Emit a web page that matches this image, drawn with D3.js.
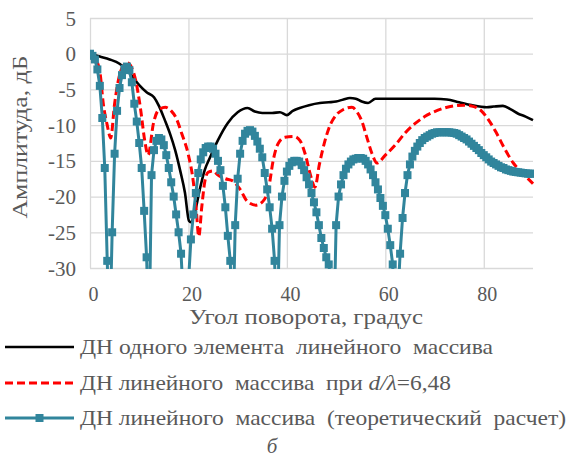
<!DOCTYPE html>
<html>
<head>
<meta charset="utf-8">
<script src="https://cdn.jsdelivr.net/npm/d3@7"></script>
<style>
  body { margin: 0; background: #fff; }
  svg text { font-family: "Liberation Serif", "DejaVu Serif", serif !important; fill: #595959; }
  .legend text { white-space: pre; }
</style>
</head>
<body>
<svg class="dn-chart" width="569" height="468"></svg>
<script>
// single element pattern (deg, dB)
const singleElement = [
  [0, 0], [2, -0.4], [4, -0.8], [6, -1.4], [8, -2.7], [10, -4.4], [11.5, -5.4], [13, -6.1],
  [14, -7.3], [15.2, -9.3], [16.3, -11.3], [17.3, -13.5], [18.3, -16.3], [19.3, -19.5],
  [20.1, -23.4], [20.5, -23.6], [21.3, -22.2], [22.3, -19], [23.3, -16.3], [24.4, -14.5],
  [26, -12.1], [28, -9.7], [30, -8.2], [32, -7.6], [33.5, -8.1], [35, -8.3], [37, -8.3],
  [38.6, -8.2], [40, -8.6], [41.2, -8.0], [42.6, -7.6], [44.5, -7.2], [46.7, -6.9], [48.5, -6.8],
  [50, -6.7], [51.5, -6.4], [52.8, -6.2], [54, -6.3], [55.2, -6.7], [56.5, -6.9], [58, -6.3],
  [60, -6.3], [65, -6.3], [70, -6.3], [72.5, -6.4], [75, -6.8], [77.5, -7.2], [80.6, -7.5],
  [82, -7.4], [83.9, -7.3], [85.5, -7.8], [87, -8.4], [88.5, -8.8], [90, -9.3]
];

// array pattern, d/lambda = 6.48 (deg, dB)
const arrayPattern = [
  [0, 0], [1, -0.6], [2, -2.5], [2.7, -7], [3.5, -10], [4.2, -11.8], [5, -7], [6, -3], [7, -1.5],
  [7.6, -1.3], [8.5, -2], [9.3, -3.8], [10.2, -7.4], [11.2, -12.5], [11.8, -14.2], [12.9, -9.7],
  [13.9, -7.9], [15.3, -7.5], [16.5, -8], [17.5, -9], [18.6, -11.1], [20, -14.2], [21, -18],
  [21.6, -22], [22.1, -25.6], [22.7, -21.5], [23.3, -18], [24, -16.6], [25, -16.4], [26, -17],
  [27.5, -17.5], [29, -17.8], [30.5, -19], [32, -20.7], [33.7, -21.2], [35.2, -20.6], [36.3, -18.8],
  [37.2, -15], [38.2, -12.6], [39.6, -11.7], [41.5, -11.6], [42.7, -12.2], [43.7, -14], [44.8, -17],
  [45.7, -18.7], [46.6, -15.5], [47.5, -12.8], [48.5, -10.5], [50, -8.6], [51.5, -7.8], [53.2, -7.5],
  [54.3, -8.2], [55.2, -9.4], [56.2, -11.6], [57.3, -14], [58.3, -15.3], [60, -14.2], [62, -12.8],
  [64, -11.1], [66, -9.8], [68, -8.8], [70, -8.1], [72, -7.6], [74, -7.3], [76, -7.2], [78, -7.4],
  [79.5, -8], [81, -9.3], [82.5, -11], [84, -13], [86, -15.3], [88, -16.8], [90, -18.2]
];

// theoretical pattern, one value every 0.5 deg from 0 to 90
const theoryStep = 0.5;
const theoryValues = [
  0, -0.3, -0.8, -2.2, -4.5, -9, -16, -29, -40, -25,
  -14, -8, -4.8, -3, -2.1, -1.8, -2.3, -4, -7, -9.5,
  -12.5, -16, -22, -28.5, -40, -17, -13.5, -12.2, -11.8, -12,
  -12.8, -14.2, -16, -18, -20, -22.5, -25, -28, -35, -40,
  -32, -26, -22.5, -19.5, -16.7, -14.8, -13.8, -13.2, -13, -13,
  -13.3, -14, -15, -16.3, -18.5, -21.5, -25.5, -29, -40, -24,
  -17.5, -14, -12.2, -11.2, -10.8, -10.7, -10.9, -11.5, -12.3, -13.3,
  -14.5, -16.7, -19, -21.5, -24.5, -29, -40, -24, -20, -17.8,
  -16.5, -15.7, -15.2, -15, -15, -15.1, -15.6, -16.3, -17.3, -18.3,
  -19.5, -20.8, -22.2, -24, -25.8, -27.2, -28.5, -29.5, -32, -40,
  -24, -20, -18.3, -17, -16.1, -15.5, -15.1, -14.8, -14.7, -14.6,
  -14.6, -14.7, -15, -15.5, -16.2, -17, -18, -19, -20.2, -21.3,
  -22.6, -24.5, -26.8, -29.5, -40, -35, -28, -23, -19.5, -17,
  -15.5, -14.4, -13.6, -13, -12.5, -12.1, -11.8, -11.6, -11.4, -11.2,
  -11.1, -11, -11, -11, -11, -11, -11, -11.05, -11.1, -11.2,
  -11.4, -11.6, -11.8, -12, -12.3, -12.6, -12.9, -13.2, -13.5, -13.9,
  -14.2, -14.5, -14.8, -15.1, -15.3, -15.5, -15.7, -15.9, -16, -16.2,
  -16.3, -16.4, -16.5, -16.55, -16.6, -16.65, -16.7, -16.75, -16.8, -16.8,
  -16.8
];

const xTicks = [0, 20, 40, 60, 80];
const yTicks = [5, 0, -5, -10, -15, -20, -25, -30];

const BLACK = "#000000";
const RED = "#ff0000";
const TEAL = "#31859c";
const GRID = "#d9d9d9";

var svg = d3.select("svg.dn-chart"),
  margin = { top: 18, left: 90 },
  width = 443,
  height = 250;

const xScale = d3.scaleLinear().domain([0, 90]).range([0, width]);
const yScale = d3.scaleLinear().domain([-30, 5]).range([height, 0]);

svg.append("defs")
  .append("clipPath")
  .attr("id", "plot-clip")
  .append("rect")
  .attr("x", 0)
  .attr("y", -1)
  .attr("width", width + 1)
  .attr("height", height + 2);

const chartG = svg.append("g")
  .attr("transform", `translate(${margin.left}, ${margin.top})`);

// GRID + TICK LABELS
const yAxis = d3.axisLeft(yScale).tickValues(yTicks).tickSize(-width).tickPadding(14);
chartG.append("g")
  .attr("class", "y axis")
  .call(yAxis)
  .call((g) => g.select(".domain").remove())
  .call((g) => g.selectAll(".tick line").attr("stroke", GRID).attr("stroke-width", 1.3))
  .call((g) => g.selectAll(".tick text")
    .attr("dy", 7)
    .attr("font-size", 21)
    .text((d) => d < 0 ? "-" + Math.abs(d) : d));

const xAxis = d3.axisBottom(xScale).tickValues(xTicks).tickSize(-height).tickPadding(20);
chartG.append("g")
  .attr("class", "x axis")
  .attr("transform", `translate(0, ${height})`)
  .call(xAxis)
  .call((g) => g.select(".domain").remove())
  .call((g) => g.selectAll(".tick line").attr("stroke", GRID).attr("stroke-width", 1.3))
  .call((g) => g.selectAll(".tick text")
    .attr("dy", 0)
    .attr("y", 33)
    .attr("dx", 3)
    .attr("font-size", 20));

const plot = chartG.append("g").attr("clip-path", "url(#plot-clip)");

// SINGLE ELEMENT LINE
const pairLine = d3.line()
  .curve(d3.curveMonotoneX)
  .x((d) => xScale(d[0]))
  .y((d) => yScale(d[1]));

plot.append("path")
  .datum(singleElement)
  .attr("d", pairLine)
  .attr("fill", "none")
  .attr("stroke", BLACK)
  .attr("stroke-width", 2.6);

// ARRAY LINE
plot.append("path")
  .datum(arrayPattern)
  .attr("d", pairLine)
  .attr("fill", "none")
  .attr("stroke", RED)
  .attr("stroke-width", 3)
  .attr("stroke-dasharray", "8,4");

// THEORY LINE + MARKERS
const theory = theoryValues.map((v, i) => ({ angle: i * theoryStep, value: v }));
const theoryLine = d3.line()
  .x((d) => xScale(d.angle))
  .y((d) => yScale(d.value));

plot.append("path")
  .datum(theory)
  .attr("d", theoryLine)
  .attr("fill", "none")
  .attr("stroke", TEAL)
  .attr("stroke-width", 3);

plot.selectAll("rect.marker")
  .data(theory.filter((d) => d.value >= -31))
  .enter()
  .append("rect")
  .attr("class", "marker")
  .attr("x", (d) => xScale(d.angle) - 4)
  .attr("y", (d) => yScale(d.value) - 4)
  .attr("width", 8)
  .attr("height", 8)
  .attr("fill", TEAL);

// AXIS TITLES
svg.append("text")
  .attr("transform", `translate(27, 137) rotate(-90)`)
  .attr("text-anchor", "middle")
  .attr("font-size", 21)
  .attr("textLength", 163)
  .attr("lengthAdjust", "spacingAndGlyphs")
  .text("Амплитуда, дБ");

svg.append("text")
  .attr("x", 306)
  .attr("y", 324)
  .attr("text-anchor", "middle")
  .attr("font-size", 20)
  .attr("textLength", 234)
  .attr("lengthAdjust", "spacingAndGlyphs")
  .text("Угол поворота, градус");

// LEGEND
const legendRows = [
  { y: 347, len: 413 },
  { y: 383, len: 371 },
  { y: 418, len: 486 }
];
const legendG = svg.append("g").attr("class", "legend");

legendG.append("line")
  .attr("x1", 5).attr("x2", 74)
  .attr("y1", legendRows[0].y).attr("y2", legendRows[0].y)
  .attr("stroke", BLACK).attr("stroke-width", 2.6);

legendG.append("line")
  .attr("x1", 5).attr("x2", 74)
  .attr("y1", legendRows[1].y).attr("y2", legendRows[1].y)
  .attr("stroke", RED).attr("stroke-width", 3).attr("stroke-dasharray", "8,4");

legendG.append("line")
  .attr("x1", 5).attr("x2", 74)
  .attr("y1", legendRows[2].y).attr("y2", legendRows[2].y)
  .attr("stroke", TEAL).attr("stroke-width", 3);
legendG.append("rect")
  .attr("x", 35.5).attr("y", legendRows[2].y - 4)
  .attr("width", 8).attr("height", 8)
  .attr("fill", TEAL);

legendG.append("text")
  .attr("x", 80).attr("y", legendRows[0].y + 7)
  .attr("font-size", 21)
  .attr("textLength", legendRows[0].len)
  .attr("lengthAdjust", "spacingAndGlyphs")
  .text("ДН одного элемента  линейного  массива");

const row2 = legendG.append("text")
  .attr("x", 80).attr("y", legendRows[1].y + 7)
  .attr("font-size", 21)
  .attr("textLength", legendRows[1].len)
  .attr("lengthAdjust", "spacingAndGlyphs");
row2.append("tspan").text("ДН линейного  массива  при ");
row2.append("tspan").attr("font-style", "italic").text("d/λ");
row2.append("tspan").text("=6,48");

legendG.append("text")
  .attr("x", 80).attr("y", legendRows[2].y + 7)
  .attr("font-size", 21)
  .attr("textLength", legendRows[2].len)
  .attr("lengthAdjust", "spacingAndGlyphs")
  .text("ДН линейного  массива  (теоретический  расчет)");

svg.append("text")
  .attr("x", 272)
  .attr("y", 453)
  .attr("text-anchor", "middle")
  .attr("font-size", 21)
  .attr("font-style", "italic")
  .text("б");
</script>
</body>
</html>
